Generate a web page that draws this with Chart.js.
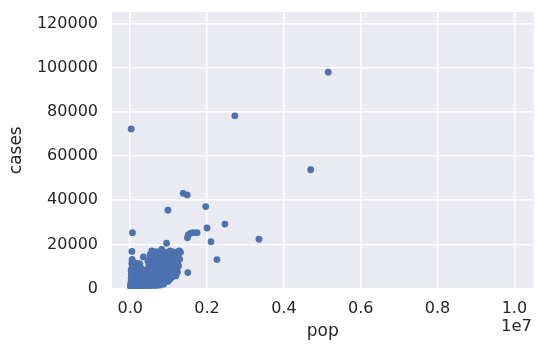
<!DOCTYPE html>
<html>
<head>
<meta charset="utf-8">
<script src="https://cdn.jsdelivr.net/npm/chart.js@4"></script>
<style>
  html, body { margin: 0; padding: 0; background: #fff; }
  canvas { display: block; }
</style>
</head>
<body>
<canvas id="chart" width="537" height="347"></canvas>
<script>
// Tick positions (pop in people, cases)
const popTicks = [0, 2000000, 4000000, 6000000, 8000000, 10000000];
const caseTicks = [0, 20000, 40000, 60000, 80000, 100000, 120000];

// Scattered points away from the main cluster: [pop in thousands, cases]
const outlierPoints = [
    [5155, 98000], [2724, 78200], [26, 72300], [4698, 53800],
    [1379, 43100], [1483, 42400], [983, 35500], [1965, 37100],
    [2465, 29200], [2000, 27400], [60, 25300], [1491, 23000],
    [1510, 24300], [1570, 25000], [1640, 25300], [1741, 25300],
    [3353, 22300], [2103, 21200], [948, 20500], [2259, 13100],
    [1500, 7200]
];

// The dense cluster near the origin: [pop in thousands, cases]
const clusterPoints = [
    [5, 300], [20, 550], [45, 250], [70, 480], [95, 380], [125, 620], [160, 300], [200, 520],
    [240, 410], [290, 650], [340, 350], [400, 560], [470, 420], [550, 700], [630, 480],
    [10, 1200], [30, 950], [60, 1300], [85, 1050], [115, 1250], [150, 900], [190, 1150], [230, 1350],
    [270, 1000], [320, 1200], [380, 1400], [440, 980], [510, 1250], [590, 1100], [670, 1300], [750, 1050],
    [15, 2000], [40, 1800], [70, 2150], [105, 1900], [140, 1750], [180, 2100], [220, 1950], [265, 2200],
    [310, 1800], [360, 2050], [420, 1900], [480, 2250], [550, 1850], [620, 2100], [700, 1950], [790, 2200], [870, 1900],
    [20, 2900], [55, 2700], [90, 3000], [130, 2750], [170, 2950], [210, 2650], [255, 2850], [300, 3100],
    [350, 2700], [400, 2900], [460, 3050], [520, 2750], [590, 2950], [660, 2800], [740, 3100], [820, 2700],
    [900, 2950], [980, 3200],
    [35, 3800], [75, 3600], [120, 3900], [160, 3650], [205, 3750], [250, 3950], [300, 3550], [345, 3800],
    [395, 3700], [450, 3950], [510, 3600], [570, 3850], [640, 3700], [710, 4000], [790, 3650], [870, 3850],
    [950, 3750], [1030, 4050],
    [25, 4700], [65, 4500], [110, 4800], [150, 4550], [195, 4650], [245, 4900], [290, 4450], [340, 4700],
    [390, 4600], [440, 4850], [500, 4550], [560, 4750], [620, 4500], [690, 4800], [760, 4650], [840, 4900],
    [920, 4550], [1000, 4750], [1080, 4950],
    [45, 5600], [95, 5400], [140, 5700], [185, 5450], [235, 5550], [285, 5800], [330, 5350], [380, 5600],
    [430, 5500], [490, 5750], [550, 5400], [610, 5650], [670, 5500], [740, 5800], [810, 5450], [890, 5600],
    [960, 5700], [1040, 5400], [1120, 5650], [1190, 5750],
    [30, 6500], [80, 6300], [130, 6600], [175, 6350], [225, 6450], [275, 6700], [320, 6250], [370, 6500],
    [425, 6400], [480, 6650], [540, 6300], [600, 6550], [660, 6400], [730, 6700], [800, 6350], [870, 6500],
    [940, 6600], [1010, 6300], [1090, 6550], [1170, 6450],
    [60, 7400], [110, 7200], [160, 7500], [210, 7250], [260, 7350], [310, 7600], [360, 7150], [420, 7400],
    [470, 7300], [530, 7550], [590, 7200], [650, 7450], [720, 7300], [790, 7600], [860, 7250], [930, 7400],
    [1000, 7500], [1080, 7200], [1160, 7450], [1230, 7350],
    [25, 8300], [85, 8100], [140, 8400], [200, 8150], [250, 8250], [300, 8500], [350, 8050], [400, 8300],
    [500, 8200], [560, 8450], [620, 8100], [680, 8350], [750, 8200], [820, 8500], [890, 8150], [960, 8300],
    [1030, 8400], [1110, 8100], [1200, 8350],
    [50, 9300], [115, 9100], [170, 9400], [230, 9150], [280, 9250], [520, 9500], [580, 9050], [640, 9300],
    [700, 9200], [770, 9450], [840, 9100], [910, 9350], [980, 9200], [1050, 9500], [1130, 9150], [1220, 9350],
    [90, 10300], [150, 10100], [210, 10400], [480, 10150], [550, 10250], [610, 10500], [670, 10050], [740, 10300],
    [810, 10200], [880, 10450], [950, 10100], [1020, 10350], [1100, 10200], [1180, 10400], [1260, 10150],
    [40, 11300], [120, 11100], [190, 11400], [250, 11150], [500, 11250], [580, 11500], [650, 11050], [720, 11300],
    [790, 11200], [860, 11450], [930, 11100], [1000, 11350], [1080, 11200], [1160, 11400], [1240, 11150],
    [70, 12000], [460, 12300], [540, 12550], [620, 12150], [700, 12400], [770, 12300], [850, 12500],
    [920, 12150], [1000, 12400], [1070, 12300], [1150, 12450], [1230, 12200],
    [50, 13200], [510, 13100], [600, 13400], [680, 13200], [760, 13350], [840, 13100], [910, 13300],
    [990, 13200], [1080, 13400], [1290, 13200],
    [345, 14300], [560, 14400], [640, 14200], [720, 14450], [800, 14300], [880, 14150], [960, 14400],
    [1040, 14250], [1120, 14450], [1210, 14300],
    [520, 15300], [610, 15600], [700, 15400], [790, 15550], [880, 15300], [970, 15500], [1060, 15400],
    [1150, 15600], [1250, 15350],
    [45, 16800], [580, 16400], [680, 16700], [780, 16500], [880, 16600], [990, 16400], [1100, 16650],
    [1220, 16500], [1310, 16400],
    [560, 17000], [820, 17700], [1040, 17000], [1280, 17000]
];

const textColor = '#262626';
const tickFont = { family: 'DejaVu Sans', size: 16 };
const labelFont = { family: 'DejaVu Sans', size: 17 };

const scatterData = clusterPoints.concat(outlierPoints).map(p => ({ x: p[0] * 1000, y: p[1] }));

// Seaborn-like grey panel behind the grid
const panelBackground = {
    id: 'panelBackground',
    beforeDraw(chart) {
        const { ctx, chartArea } = chart;
        ctx.save();
        ctx.fillStyle = '#EAEAF2';
        ctx.fillRect(chartArea.left, chartArea.top, chartArea.right - chartArea.left, chartArea.bottom - chartArea.top);
        ctx.restore();
    }
};

// Offset text "1e7" under the right end of the x axis
const offsetText = {
    id: 'offsetText',
    afterDraw(chart) {
        const { ctx, chartArea } = chart;
        ctx.save();
        ctx.font = '16.5px "DejaVu Sans"';
        ctx.fillStyle = textColor;
        ctx.textAlign = 'right';
        ctx.textBaseline = 'middle';
        ctx.fillText('1e7', chartArea.right - 1.5, 327);
        ctx.restore();
    }
};

new Chart(document.getElementById('chart'), {
    type: 'scatter',
    data: {
        datasets: [{
            label: 'cases',
            data: scatterData,
            backgroundColor: '#4C72B0',
            borderWidth: 0,
            pointRadius: 3.4,
            pointHoverRadius: 3.4
        }]
    },
    options: {
        responsive: false,
        animation: false,
        devicePixelRatio: 1,
        layout: { padding: { top: 12, right: 1, bottom: 0, left: 0 } },
        plugins: {
            legend: { display: false },
            tooltip: { enabled: false }
        },
        scales: {
            x: {
                type: 'linear',
                min: -473000,
                max: 10500000,
                afterBuildTicks: scale => { scale.ticks = popTicks.map(v => ({ value: v })); },
                afterFit: scale => {
                    scale.height = 58.5;
                    scale.paddingLeft = 0;
                    scale.paddingRight = 0;
                },
                ticks: {
                    callback: v => (v / 1e7).toFixed(1),
                    font: tickFont,
                    color: textColor,
                    padding: 11,
                    maxRotation: 0
                },
                grid: { color: '#ffffff', lineWidth: 1.5, drawTicks: false },
                border: { display: false },
                title: { display: true, text: 'pop', font: labelFont, color: textColor, padding: { top: 0, bottom: 5 } }
            },
            y: {
                type: 'linear',
                min: 0,
                max: 125250,
                afterBuildTicks: scale => { scale.ticks = caseTicks.map(v => ({ value: v })); },
                afterFit: scale => {
                    scale.width = 112;
                    scale.paddingTop = 0;
                    scale.paddingBottom = 0;
                },
                ticks: {
                    callback: v => String(v),
                    font: tickFont,
                    color: textColor,
                    padding: 14
                },
                grid: { color: '#ffffff', lineWidth: 1.5, drawTicks: false },
                border: { display: false },
                title: { display: true, text: 'cases', font: labelFont, color: textColor, padding: { top: 6, bottom: 0 } }
            }
        }
    },
    plugins: [panelBackground, offsetText]
});
</script>
</body>
</html>
